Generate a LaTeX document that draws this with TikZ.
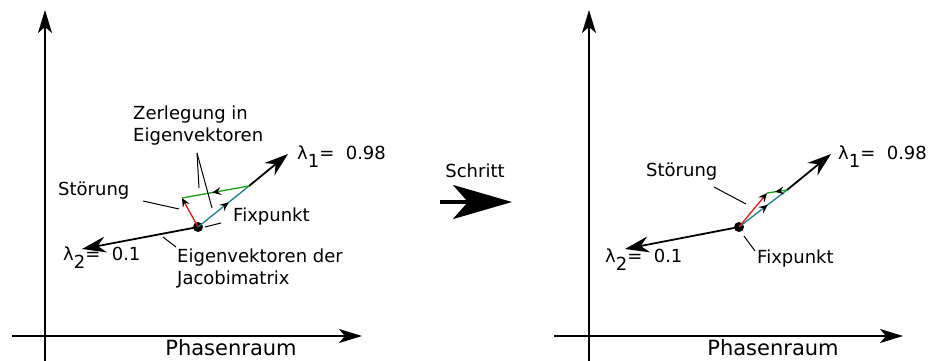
\documentclass[tikz,border=0pt]{standalone}
\usepackage{fontspec}
\setmainfont{DejaVu Sans}
\usetikzlibrary{arrows.meta,decorations.markings}
\definecolor{tealv}{RGB}{22,130,140}
\definecolor{greenv}{RGB}{20,165,20}
\definecolor{redv}{RGB}{235,20,20}
\tikzset{
  axistip/.tip={Stealth[length=23pt,width=14pt,inset=6pt]},
  eigtip/.tip={Stealth[length=24pt,width=16pt,inset=8pt]},
  smalltip/.tip={Stealth[length=9pt,width=8pt,inset=3.5pt,black]},
}
\begin{document}
\begin{tikzpicture}[x=1pt,y=-1pt,
  axis/.style={line width=1.8pt,-axistip},
  eig/.style={line width=1.8pt,-eigtip},
  comp/.style={line width=1.3pt},
  midarrow/.style={postaction={decorate},decoration={markings,mark=at position #1 with {\arrow{smalltip}}}},
  lbl/.style={font=\fontsize{18}{22}\selectfont,inner sep=0pt,align=left},
  big/.style={font=\fontsize{21}{24}\selectfont,inner sep=0pt},
  lead/.style={line width=1pt},
  fix/.style={circle,fill=black,inner sep=0pt,minimum size=10pt},
]
\useasboundingbox (0,0) rectangle (930,360);

% ---------- left panel ----------
\coordinate (Lyb) at (45,362);
\coordinate (Lyt) at (45,10);
\coordinate (Lxl) at (12,336);
\coordinate (Lxr) at (362,336);
\draw[axis] (Lyb) -- (Lyt);
\draw[axis] (Lxl) -- (Lxr);
\node[big,anchor=base] (Lph) at (231,355) {Phasenraum};

\node[fix] (Lfix) at (198,227) {};
\coordinate (Le1) at (288,154);
\coordinate (Le2) at (82,249);
\coordinate (Lc1) at (249,186);
\coordinate (Lpert) at (182,198);
\draw[eig] (Lc1) -- (Le1);
\draw[eig] (Lfix.center) -- (Le2);
\draw[comp,tealv,midarrow=0.6] (Lfix.center) -- (Lc1);
\draw[comp,greenv,midarrow=0.55] (Lc1) -- (Lpert);
\draw[comp,redv,-smalltip] (Lfix.center) -- (Lpert);

\node[lbl,anchor=west] (Ll1) at (297,157) {λ\raisebox{-8pt}{1}=\ \ 0.98};
\node[lbl,anchor=west] (Ll2) at (63,258) {λ\raisebox{-8pt}{2}=\ \ 0.1};
\node[lbl,anchor=north west] (Lzer) at (133,106) {Zerlegung in\\Eigenvektoren};
\node[lbl,anchor=west] (Lst) at (58,191) {Störung};
\node[lbl,anchor=west] (Lfx) at (233,217) {Fixpunkt};
\node[lbl,anchor=north west] (Ljac) at (177,249) {Eigenvektoren der\\Jacobimatrix};

\coordinate (Lz0) at (197,153);
\coordinate (Lz1) at (199,188);
\coordinate (Lz2) at (212,208);
\draw[lead] (Lz0) -- (Lz1);
\draw[lead] (Lz0) -- (Lz2);
\coordinate (Ls0) at (143,201);
\coordinate (Ls1) at (179,209);
\draw[lead] (Ls0) -- (Ls1);
\coordinate (Lf0) at (205,227);
\coordinate (Lf1) at (221,223);
\draw[lead] (Lf0) -- (Lf1);
\coordinate (Lj0) at (163,237);
\coordinate (Lj1) at (176,247);
\draw[lead] (Lj0) -- (Lj1);

% ---------- step arrow ----------
\node[lbl,anchor=center] (Sch) at (475,171) {Schritt};
\coordinate (Sa) at (440,202);
\coordinate (Sb) at (512,202);
\draw[line width=4pt,-{Stealth[length=59pt,width=34pt,inset=15pt]}] (Sa) -- (Sb);

% ---------- right panel ----------
\coordinate (Ryb) at (589,362);
\coordinate (Ryt) at (589,10);
\coordinate (Rxl) at (554,336);
\coordinate (Rxr) at (903,336);
\draw[axis] (Ryb) -- (Ryt);
\draw[axis] (Rxl) -- (Rxr);
\node[big,anchor=base] (Rph) at (773,355) {Phasenraum};

\node[fix] (Rfix) at (739,227) {};
\coordinate (Re1) at (831,154);
\coordinate (Re2) at (625,249);
\coordinate (Rc1) at (787,190);
\coordinate (Rpert) at (767,193);
\draw[eig] (Rc1) -- (Re1);
\draw[eig] (Rfix.center) -- (Re2);
\draw[comp,tealv,midarrow=0.6] (Rfix.center) -- (Rc1);
\draw[comp,greenv,midarrow=0.6] (Rc1) -- (Rpert);
\draw[comp,redv,-smalltip] (Rfix.center) -- (Rpert);

\node[lbl,anchor=west] (Rl1) at (838,157) {λ\raisebox{-8pt}{1}=\ \ 0.98};
\node[lbl,anchor=west] (Rl2) at (605,260) {λ\raisebox{-8pt}{2}=\ \ 0.1};
\node[lbl,anchor=west] (Rst) at (646,172) {Störung};
\node[lbl,anchor=west] (Rfx) at (757,259) {Fixpunkt};

\coordinate (Rs0) at (714,187);
\coordinate (Rs1) at (746,204);
\draw[lead] (Rs0) -- (Rs1);
\coordinate (Rf0) at (744,236);
\coordinate (Rf1) at (755,251);
\draw[lead] (Rf0) -- (Rf1);
\end{tikzpicture}
\end{document}
